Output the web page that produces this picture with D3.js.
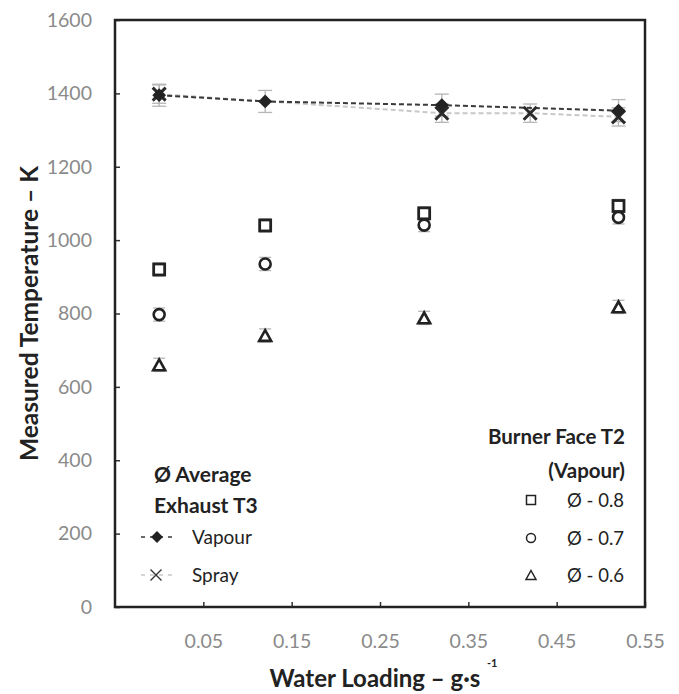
<!DOCTYPE html>
<html>
<head>
<meta charset="utf-8">
<script src="https://cdn.jsdelivr.net/npm/d3@7"></script>
<style>
  body { margin: 0; background: #fff; }
  svg { display: block; }
</style>
</head>
<body>
<script>
// T3 exhaust average (vapour and spray injection)
const t3VapourX = [0, 0.12, 0.32, 0.52];
const t3VapourY = [1395, 1378, 1368, 1353];
const t3VapourErr = [30, 30, 30, 30];
const t3SprayX = [0, 0.32, 0.42, 0.52];
const t3SprayY = [1398, 1346, 1346, 1336];
const t3SprayErr = [25, 25, 25, 25];

// T2 burner face (vapour) by equivalence ratio
const t2X = [0, 0.12, 0.3, 0.52];
const t2Phi08 = [920, 1040, 1073, 1093];
const t2Phi07 = [797, 935, 1041, 1062];
const t2Phi06 = [660, 740, 788, 818];
const t2Err = [18, 18, 18, 18];

const xTicks = [0.05, 0.15, 0.25, 0.35, 0.45, 0.55];
const yTicks = [0, 200, 400, 600, 800, 1000, 1200, 1400, 1600];

const width = 679, height = 694;
const plot = {left: 115, right: 645, top: 20, bottom: 607};
const font = "Lato, 'Open Sans', sans-serif";

const svg = d3.select("body").append("svg")
    .attr("width", width)
    .attr("height", height)
    .style("font-family", font);

const x = d3.scaleLinear().domain([-0.05, 0.55]).range([plot.left, plot.right]);
const y = d3.scaleLinear().domain([0, 1600]).range([plot.bottom, plot.top]);

// axes (ticks point inward like the original)
const yAxis = svg.append("g")
    .attr("transform", `translate(${plot.left},0)`)
    .call(d3.axisLeft(y).tickValues(yTicks).tickSize(-5).tickPadding(23).tickFormat(d3.format("d")));
const xAxis = svg.append("g")
    .attr("transform", `translate(0,${plot.bottom})`)
    .call(d3.axisBottom(x).tickValues(xTicks).tickSize(-5).tickPadding(27).tickFormat(d3.format(".2f")));

[yAxis, xAxis].forEach(g => {
    g.select(".domain").remove();
    g.selectAll(".tick line").attr("stroke", "#333").attr("stroke-width", 1.5);
    g.selectAll(".tick text").attr("fill", "#8a8a8a").style("font-size", "19.5px")
        .style("font-family", font);
});

// frame
svg.append("rect")
    .attr("x", plot.left).attr("y", plot.top)
    .attr("width", plot.right - plot.left).attr("height", plot.bottom - plot.top)
    .attr("fill", "none").attr("stroke", "#222").attr("stroke-width", 2.5);

// axis titles
svg.append("text")
    .attr("transform", `translate(38,${(plot.top + plot.bottom) / 2}) rotate(-90)`)
    .attr("text-anchor", "middle")
    .attr("fill", "#222")
    .style("font-size", "24.5px").style("font-weight", "bold")
    .text("Measured Temperature – K");

svg.append("text")
    .attr("x", 375).attr("y", 687)
    .attr("text-anchor", "middle")
    .attr("fill", "#222")
    .style("font-size", "24px").style("font-weight", "bold")
    .text("Water Loading – g·s");
svg.append("text")
    .attr("x", 487).attr("y", 667)
    .attr("fill", "#222")
    .style("font-size", "11px").style("font-weight", "bold")
    .text("-1");

// error bars
function errorBars(xs, ys, errs, color, cap) {
    const g = svg.append("g").attr("stroke", color).attr("stroke-width", 1.3);
    xs.forEach((xv, i) => {
        const cx = x(xv), y1 = y(ys[i] + errs[i]), y2 = y(ys[i] - errs[i]);
        g.append("line").attr("x1", cx).attr("x2", cx).attr("y1", y1).attr("y2", y2);
        g.append("line").attr("x1", cx - cap).attr("x2", cx + cap).attr("y1", y1).attr("y2", y1);
        g.append("line").attr("x1", cx - cap).attr("x2", cx + cap).attr("y1", y2).attr("y2", y2);
    });
}

errorBars(t2X, t2Phi08, t2Err, "#b5b5b5", 6);
errorBars(t2X, t2Phi07, t2Err, "#b5b5b5", 6);
errorBars(t2X, t2Phi06, t2Err, "#b5b5b5", 6);
errorBars(t3SprayX, t3SprayY, t3SprayErr, "#b5b5b5", 7);
errorBars(t3VapourX, t3VapourY, t3VapourErr, "#b5b5b5", 7);

// T3 lines
const line = d3.line().x(d => x(d[0])).y(d => y(d[1]));
svg.append("path")
    .datum(d3.zip(t3SprayX, t3SprayY))
    .attr("d", line)
    .attr("fill", "none").attr("stroke", "#c8c8c8")
    .attr("stroke-width", 2).attr("stroke-dasharray", "5,3");
svg.append("path")
    .datum(d3.zip(t3VapourX, t3VapourY))
    .attr("d", line)
    .attr("fill", "none").attr("stroke", "#3a3a3a")
    .attr("stroke-width", 2).attr("stroke-dasharray", "5,3");

// marker helpers
const diamond = d3.symbol().type(d3.symbolDiamond2).size(120);
function drawX(g, cx, cy, r, sw, color) {
    g.append("path")
        .attr("d", `M${cx - r},${cy - r}L${cx + r},${cy + r}M${cx - r},${cy + r}L${cx + r},${cy - r}`)
        .attr("stroke", color).attr("stroke-width", sw).attr("fill", "none");
}
function drawSquare(g, cx, cy, s, sw) {
    g.append("rect").attr("x", cx - s / 2).attr("y", cy - s / 2)
        .attr("width", s).attr("height", s)
        .attr("fill", "#fff").attr("stroke", "#222").attr("stroke-width", sw);
}
function drawCircle(g, cx, cy, r, sw) {
    g.append("circle").attr("cx", cx).attr("cy", cy).attr("r", r)
        .attr("fill", "#fff").attr("stroke", "#222").attr("stroke-width", sw);
}
function drawTriangle(g, cx, cy, s, sw) {
    const h = s * 0.9;
    g.append("path")
        .attr("d", `M${cx},${cy - h / 2}L${cx + s / 2},${cy + h / 2}L${cx - s / 2},${cy + h / 2}Z`)
        .attr("fill", "#fff").attr("stroke", "#222").attr("stroke-width", sw);
}

const marks = svg.append("g");
t2X.forEach((xv, i) => drawSquare(marks, x(xv), y(t2Phi08[i]), 11, 2.8));
t2X.forEach((xv, i) => drawCircle(marks, x(xv), y(t2Phi07[i]), 5.5, 2.6));
t2X.forEach((xv, i) => drawTriangle(marks, x(xv), y(t2Phi06[i]), 12, 2.6));

t3SprayX.forEach((xv, i) => drawX(marks, x(xv), y(t3SprayY[i]), 6.5, 3, "#2a2a2a"));
t3VapourX.forEach((xv, i) => {
    marks.append("path")
        .attr("transform", `translate(${x(xv)},${y(t3VapourY[i])})`)
        .attr("d", diamond)
        .attr("fill", "#222");
});

// left legend
const legL = svg.append("g").attr("fill", "#222");
legL.append("text").attr("x", 154).attr("y", 482)
    .style("font-size", "21px").style("font-weight", "bold").text("Ø Average");
legL.append("text").attr("x", 154).attr("y", 513)
    .style("font-size", "21px").style("font-weight", "bold").text("Exhaust T3");
legL.append("line").attr("x1", 141).attr("x2", 173).attr("y1", 537).attr("y2", 537)
    .attr("stroke", "#3a3a3a").attr("stroke-width", 1.5).attr("stroke-dasharray", "4,5");
legL.append("path").attr("transform", "translate(157,537)")
    .attr("d", d3.symbol().type(d3.symbolDiamond2).size(90)).attr("fill", "#222");
legL.append("text").attr("x", 192).attr("y", 544).style("font-size", "19px").text("Vapour");
legL.append("line").attr("x1", 141).attr("x2", 173).attr("y1", 575).attr("y2", 575)
    .attr("stroke", "#c8c8c8").attr("stroke-width", 1.5).attr("stroke-dasharray", "4,5");
drawX(legL, 156, 575, 5.5, 1.4, "#333");
legL.append("text").attr("x", 192).attr("y", 582).style("font-size", "19px").text("Spray");

// right legend
const legR = svg.append("g").attr("fill", "#222");
legR.append("text").attr("x", 625).attr("y", 444).attr("text-anchor", "end")
    .style("font-size", "20.5px").style("font-weight", "bold").text("Burner Face T2");
legR.append("text").attr("x", 625).attr("y", 478).attr("text-anchor", "end")
    .style("font-size", "20.5px").style("font-weight", "bold").text("(Vapour)");
drawSquare(legR, 531, 500, 9, 1.5);
drawCircle(legR, 531, 538, 4.5, 1.5);
drawTriangle(legR, 531, 575, 10, 1.5);
["Ø - 0.8", "Ø - 0.7", "Ø - 0.6"].forEach((t, i) => {
    legR.append("text").attr("x", 567).attr("y", 507 + i * 37.5)
        .style("font-size", "18.5px").text(t);
});
</script>
</body>
</html>
